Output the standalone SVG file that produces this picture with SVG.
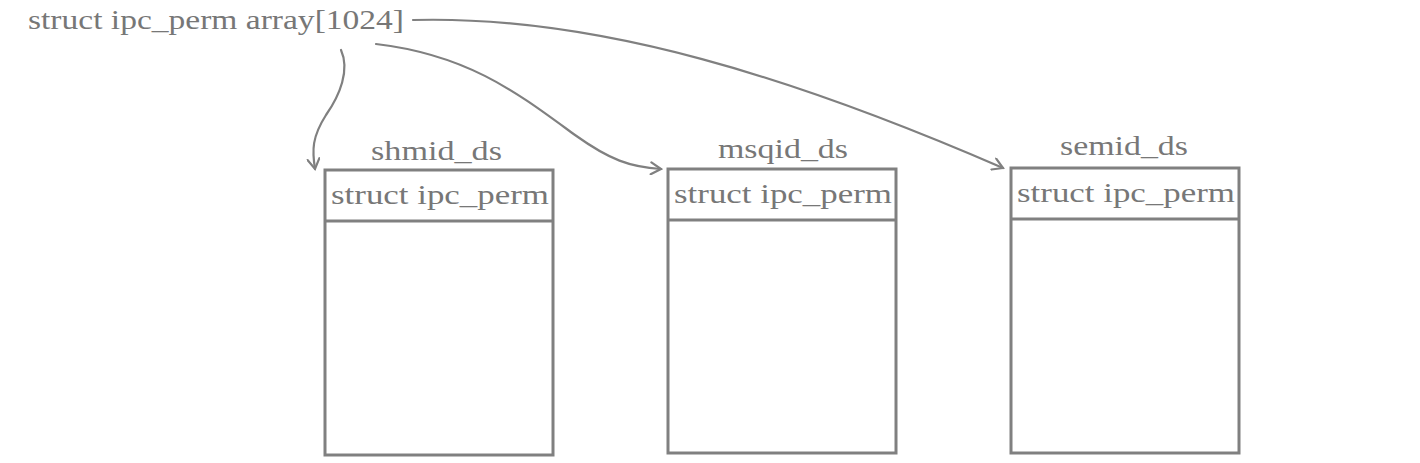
<svg xmlns="http://www.w3.org/2000/svg" width="1420" height="463" viewBox="0 0 1420 463">
<style>
text{font-family:"Liberation Serif","DejaVu Serif",serif;fill:#777;font-size:28px}
.box{fill:#fff;stroke:#808080;stroke-width:3}
.div{stroke:#808080;stroke-width:3}
.c{fill:none;stroke:#808080;stroke-width:2.2;stroke-linecap:round}
</style>
<defs>
<marker id="ah" viewBox="0 0 14 14" refX="12" refY="7" markerWidth="14" markerHeight="14" markerUnits="userSpaceOnUse" orient="auto">
<path d="M2,1 L12,7 L2,13" fill="none" stroke="#808080" stroke-width="2.2" stroke-linecap="round"/>
</marker>
</defs>
<rect width="1420" height="463" fill="#fff"/>
<g id="array"><text x="28" y="29" textLength="376" lengthAdjust="spacingAndGlyphs">struct ipc_perm array[1024]</text></g>
<g id="shmid">
<text x="371" y="160" textLength="131" lengthAdjust="spacingAndGlyphs">shmid_ds</text>
<rect class="box" x="325" y="170" width="228" height="285"/>
<line class="div" x1="325" y1="221" x2="553" y2="221"/>
<text x="331" y="204" textLength="218" lengthAdjust="spacingAndGlyphs">struct ipc_perm</text>
</g>
<g id="msqid">
<text x="718" y="158" textLength="130" lengthAdjust="spacingAndGlyphs">msqid_ds</text>
<rect class="box" x="668" y="169" width="228" height="284"/>
<line class="div" x1="668" y1="220" x2="896" y2="220"/>
<text x="674" y="203" textLength="218" lengthAdjust="spacingAndGlyphs">struct ipc_perm</text>
</g>
<g id="semid">
<text x="1060" y="155" textLength="128" lengthAdjust="spacingAndGlyphs">semid_ds</text>
<rect class="box" x="1011" y="168" width="228" height="285"/>
<line class="div" x1="1011" y1="219" x2="1239" y2="219"/>
<text x="1017" y="202" textLength="218" lengthAdjust="spacingAndGlyphs">struct ipc_perm</text>
</g>
<g id="connectors">
<path class="c" d="M341,50 C350,70 340,95 326,115 C312,137 312,150 315,169" marker-end="url(#ah)"/>
<path class="c" d="M376,44 C470,55 520,95 575,135 C610,160 630,167 661,169" marker-end="url(#ah)"/>
<path class="c" d="M413,20 C600,15 800,80 1003,168" marker-end="url(#ah)"/>
</g>
</svg>
